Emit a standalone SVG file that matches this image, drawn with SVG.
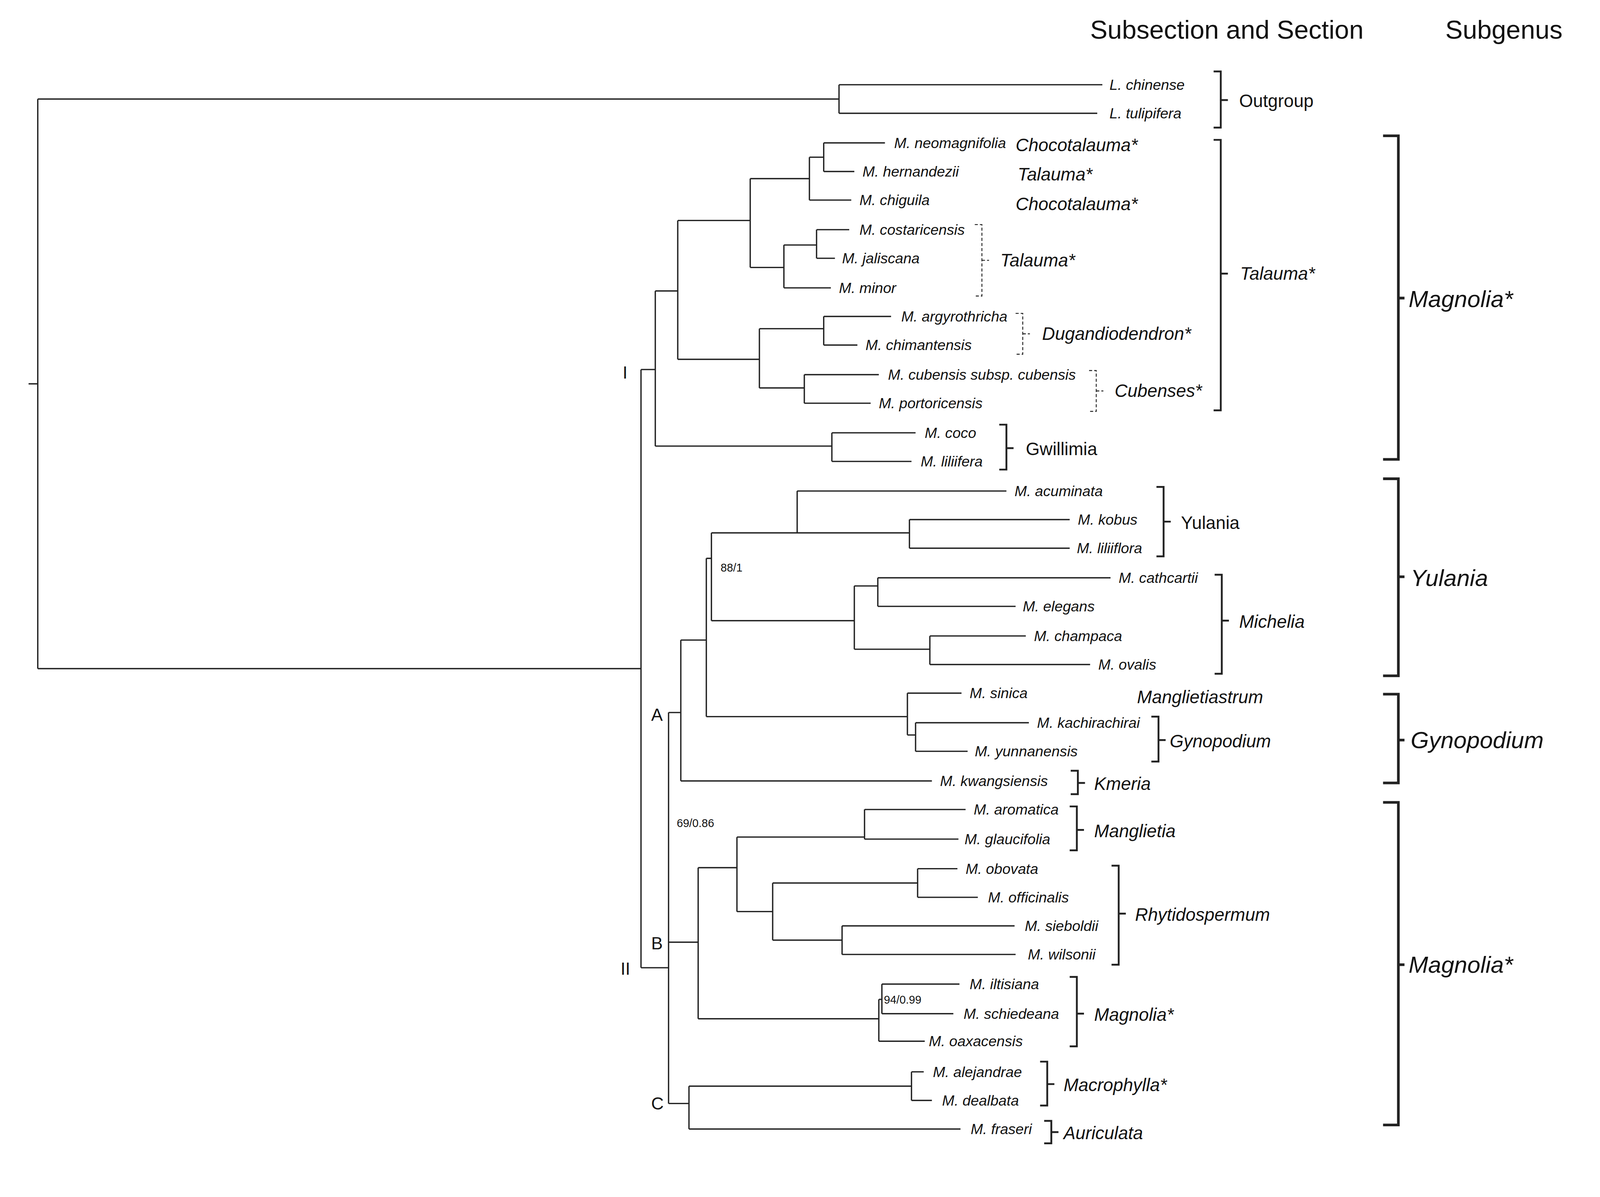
<svg xmlns="http://www.w3.org/2000/svg" width="4224" height="3064" viewBox="0 0 4224 3064">
<style>
.t{font-family:"Liberation Sans",Arial,sans-serif;font-style:italic;font-size:14.4px;fill:#111}
.s{font-family:"Liberation Sans",Arial,sans-serif;font-style:italic;font-size:17.5px;fill:#111}
.u{font-family:"Liberation Sans",Arial,sans-serif;font-size:17.5px;fill:#111}
.g{font-family:"Liberation Sans",Arial,sans-serif;font-style:italic;font-size:23px;fill:#111}
.h{font-family:"Liberation Sans",Arial,sans-serif;font-size:25.5px;fill:#111}
.n{font-family:"Liberation Sans",Arial,sans-serif;font-size:17px;fill:#111}
.b{font-family:"Liberation Sans",Arial,sans-serif;font-size:11px;fill:#111}
.br{fill:none;stroke:#222;stroke-width:1.3}
.bk{fill:none;stroke:#222;stroke-width:1.8}
.bd{fill:none;stroke:#222;stroke-width:0.9;stroke-dasharray:3 2}
.bg{fill:none;stroke:#222;stroke-width:2.6}
</style>
<rect width="4224" height="3064" fill="#fff"/>
<g transform="scale(2.613)">
<text class="h" x="1068" y="38">Subsection and Section</text>
<text class="h" x="1416" y="38">Subgenus</text>
<g id="connectors" class="br">
<path d="M28 376H37M37 97V655M37 97H822M822 83V111M822 83H1080M822 111H1075"/>
<path d="M37 655H628M628 362V948M628 362H642M642 285V437M642 285H664M664 216V352M664 216H735M735 175V262M735 175H793M793 154V196M793 154H807M807 140V168M807 140H867M807 168H837M793 196H834"/>
<path d="M735 262H768M768 240V282M768 240H800M800 225V253M800 225H832M800 253H818M768 282H814"/>
<path d="M664 352H744M744 322V380M744 322H807M807 310V338M807 310H873M807 338H840M744 380H788M788 367V395M788 367H861M788 395H853"/>
<path d="M642 437H815M815 424V452M815 424H897M815 452H893"/>
<path d="M628 948H655M655 698V1081M655 698H667M667 627V765M667 627H692M692 547V702M692 547H697M697 522V608M697 522H781M781 481V522M781 481H986M781 522H891M891 509V537M891 509H1048M891 537H1048"/>
<path d="M697 608H837M837 574V636M837 574H860M860 566V594M860 566H1088M860 594H995M837 636H911M911 623V651M911 623H1005M911 651H1068"/>
<path d="M692 702H889M889 679V720M889 679H942M889 720H897M897 708V736M897 708H1008M897 736H948M667 765H913"/>
<path d="M655 923H684M684 850V998M684 850H722M722 820V893M722 820H847M847 793V822M847 793H946M847 822H939M722 893H757M757 865V921M757 865H899M899 851V879M899 851H938M899 879H958M757 921H825M825 907V935M825 907H994M825 935H995"/>
<path d="M684 998H861M861 979V1020M861 979H864M864 964V993M864 964H940M864 993H934M861 1020H906"/>
<path d="M655 1081H675M675 1064V1106M675 1064H893M893 1050V1078M893 1050H905M893 1078H913M675 1106H941"/>
</g>
<g id="clade-labels">
<text class="n" x="610" y="371">I</text>
<text class="n" x="608" y="955">II</text>
<text class="n" x="638" y="706">A</text>
<text class="n" x="638" y="930">B</text>
<text class="n" x="638" y="1087">C</text>
<text class="b" x="706" y="560">88/1</text>
<text class="b" x="663" y="810">69/0.86</text>
<text class="b" x="866" y="983">94/0.99</text>
</g>
<g id="taxa">
<g id="t1"><text class="t" x="1087" y="88">L. chinense</text></g>
<g id="t2"><text class="t" x="1087" y="116">L. tulipifera</text></g>
<g id="t3"><text class="t" x="876" y="145">M. neomagnifolia</text></g>
<g id="t4"><text class="t" x="845" y="173">M. hernandezii</text></g>
<g id="t5"><text class="t" x="842" y="201">M. chiguila</text></g>
<g id="t6"><text class="t" x="842" y="230">M. costaricensis</text></g>
<g id="t7"><text class="t" x="825" y="258">M. jaliscana</text></g>
<g id="t8"><text class="t" x="822" y="287">M. minor</text></g>
<g id="t9"><text class="t" x="883" y="315">M. argyrothricha</text></g>
<g id="t10"><text class="t" x="848" y="343">M. chimantensis</text></g>
<g id="t11"><text class="t" x="870" y="372">M. cubensis subsp. cubensis</text></g>
<g id="t12"><text class="t" x="861" y="400">M. portoricensis</text></g>
<g id="t13"><text class="t" x="906" y="429">M. coco</text></g>
<g id="t14"><text class="t" x="902" y="457">M. liliifera</text></g>
<g id="t15"><text class="t" x="994" y="486">M. acuminata</text></g>
<g id="t16"><text class="t" x="1056" y="514">M. kobus</text></g>
<g id="t17"><text class="t" x="1055" y="542">M. liliiflora</text></g>
<g id="t18"><text class="t" x="1096" y="571">M. cathcartii</text></g>
<g id="t19"><text class="t" x="1002" y="599">M. elegans</text></g>
<g id="t20"><text class="t" x="1013" y="628">M. champaca</text></g>
<g id="t21"><text class="t" x="1076" y="656">M. ovalis</text></g>
<g id="t22"><text class="t" x="950" y="684">M. sinica</text></g>
<g id="t23"><text class="t" x="1016" y="713">M. kachirachirai</text></g>
<g id="t24"><text class="t" x="955" y="741">M. yunnanensis</text></g>
<g id="t25"><text class="t" x="921" y="770">M. kwangsiensis</text></g>
<g id="t26"><text class="t" x="954" y="798">M. aromatica</text></g>
<g id="t27"><text class="t" x="945" y="827">M. glaucifolia</text></g>
<g id="t28"><text class="t" x="946" y="856">M. obovata</text></g>
<g id="t29"><text class="t" x="968" y="884">M. officinalis</text></g>
<g id="t30"><text class="t" x="1004" y="912">M. sieboldii</text></g>
<g id="t31"><text class="t" x="1007" y="940">M. wilsonii</text></g>
<g id="t32"><text class="t" x="950" y="969">M. iltisiana</text></g>
<g id="t33"><text class="t" x="944" y="998">M. schiedeana</text></g>
<g id="t34"><text class="t" x="910" y="1025">M. oaxacensis</text></g>
<g id="t35"><text class="t" x="914" y="1055">M. alejandrae</text></g>
<g id="t36"><text class="t" x="923" y="1083">M. dealbata</text></g>
<g id="t37"><text class="t" x="951" y="1111">M. fraseri</text></g>
</g>
<g id="sections">
<g id="sec-outgroup"><path class="bk" d="M1189 70H1196V125H1189M1196 98H1203"/><text class="u" x="1214" y="105">Outgroup</text></g>
<text class="s" x="995" y="148">Chocotalauma*</text>
<text class="s" x="997" y="177">Talauma*</text>
<text class="s" x="995" y="206">Chocotalauma*</text>
<g id="sec-talauma-sub"><path class="bd" d="M955 220H962V290H955M962 255H969"/><text class="s" x="980" y="261">Talauma*</text></g>
<g id="sec-dugand"><path class="bd" d="M995 307H1002V347H995M1002 327H1009"/><text class="s" x="1021" y="333">Dugandiodendron*</text></g>
<g id="sec-cubenses"><path class="bd" d="M1067 363H1074V403H1067M1074 383H1081"/><text class="s" x="1092" y="389">Cubenses*</text></g>
<g id="sec-talauma"><path class="bk" d="M1189 137H1196V402H1189M1196 268H1203"/><text class="s" x="1215" y="274">Talauma*</text></g>
<g id="sec-gwillimia"><path class="bk" d="M979 416H986V460H979M986 439H993"/><text class="u" x="1005" y="446">Gwillimia</text></g>
<g id="sec-yulania"><path class="bk" d="M1133 477H1140V545H1133M1140 511H1147"/><text class="u" x="1157" y="518">Yulania</text></g>
<g id="sec-michelia"><path class="bk" d="M1190 563H1197V660H1190M1197 608H1204"/><text class="s" x="1214" y="615">Michelia</text></g>
<text class="s" x="1114" y="689">Manglietiastrum</text>
<g id="sec-gynopodium"><path class="bk" d="M1128 702H1135V746H1128M1135 725H1142"/><text class="s" x="1146" y="732">Gynopodium</text></g>
<g id="sec-kmeria"><path class="bk" d="M1049 755H1056V778H1049M1056 767H1063"/><text class="s" x="1072" y="774">Kmeria</text></g>
<g id="sec-manglietia"><path class="bk" d="M1048 790H1055V833H1048M1055 813H1062"/><text class="s" x="1072" y="820">Manglietia</text></g>
<g id="sec-rhytido"><path class="bk" d="M1089 848H1096V945H1089M1096 895H1103"/><text class="s" x="1112" y="902">Rhytidospermum</text></g>
<g id="sec-magnolia"><path class="bk" d="M1048 957H1055V1025H1048M1055 993H1062"/><text class="s" x="1072" y="1000">Magnolia*</text></g>
<g id="sec-macrophylla"><path class="bk" d="M1019 1040H1026V1083H1019M1026 1062H1033"/><text class="s" x="1042" y="1069">Macrophylla*</text></g>
<g id="sec-auriculata"><path class="bk" d="M1023 1098H1030V1120H1023M1030 1109H1037"/><text class="s" x="1042" y="1116">Auriculata</text></g>
</g>
<g id="subgenera">
<g id="sg-magnolia1"><path class="bg" d="M1355 133H1370V450H1355M1370 292H1376"/><text class="g" x="1380" y="301">Magnolia*</text></g>
<g id="sg-yulania"><path class="bg" d="M1355 469H1370V662H1355M1370 565H1376"/><text class="g" x="1382" y="574">Yulania</text></g>
<g id="sg-gynopodium"><path class="bg" d="M1355 680H1370V767H1355M1370 725H1376"/><text class="g" x="1382" y="733">Gynopodium</text></g>
<g id="sg-magnolia2"><path class="bg" d="M1355 786H1370V1102H1355M1370 945H1376"/><text class="g" x="1380" y="953">Magnolia*</text></g>
</g>
</g>
</svg>
